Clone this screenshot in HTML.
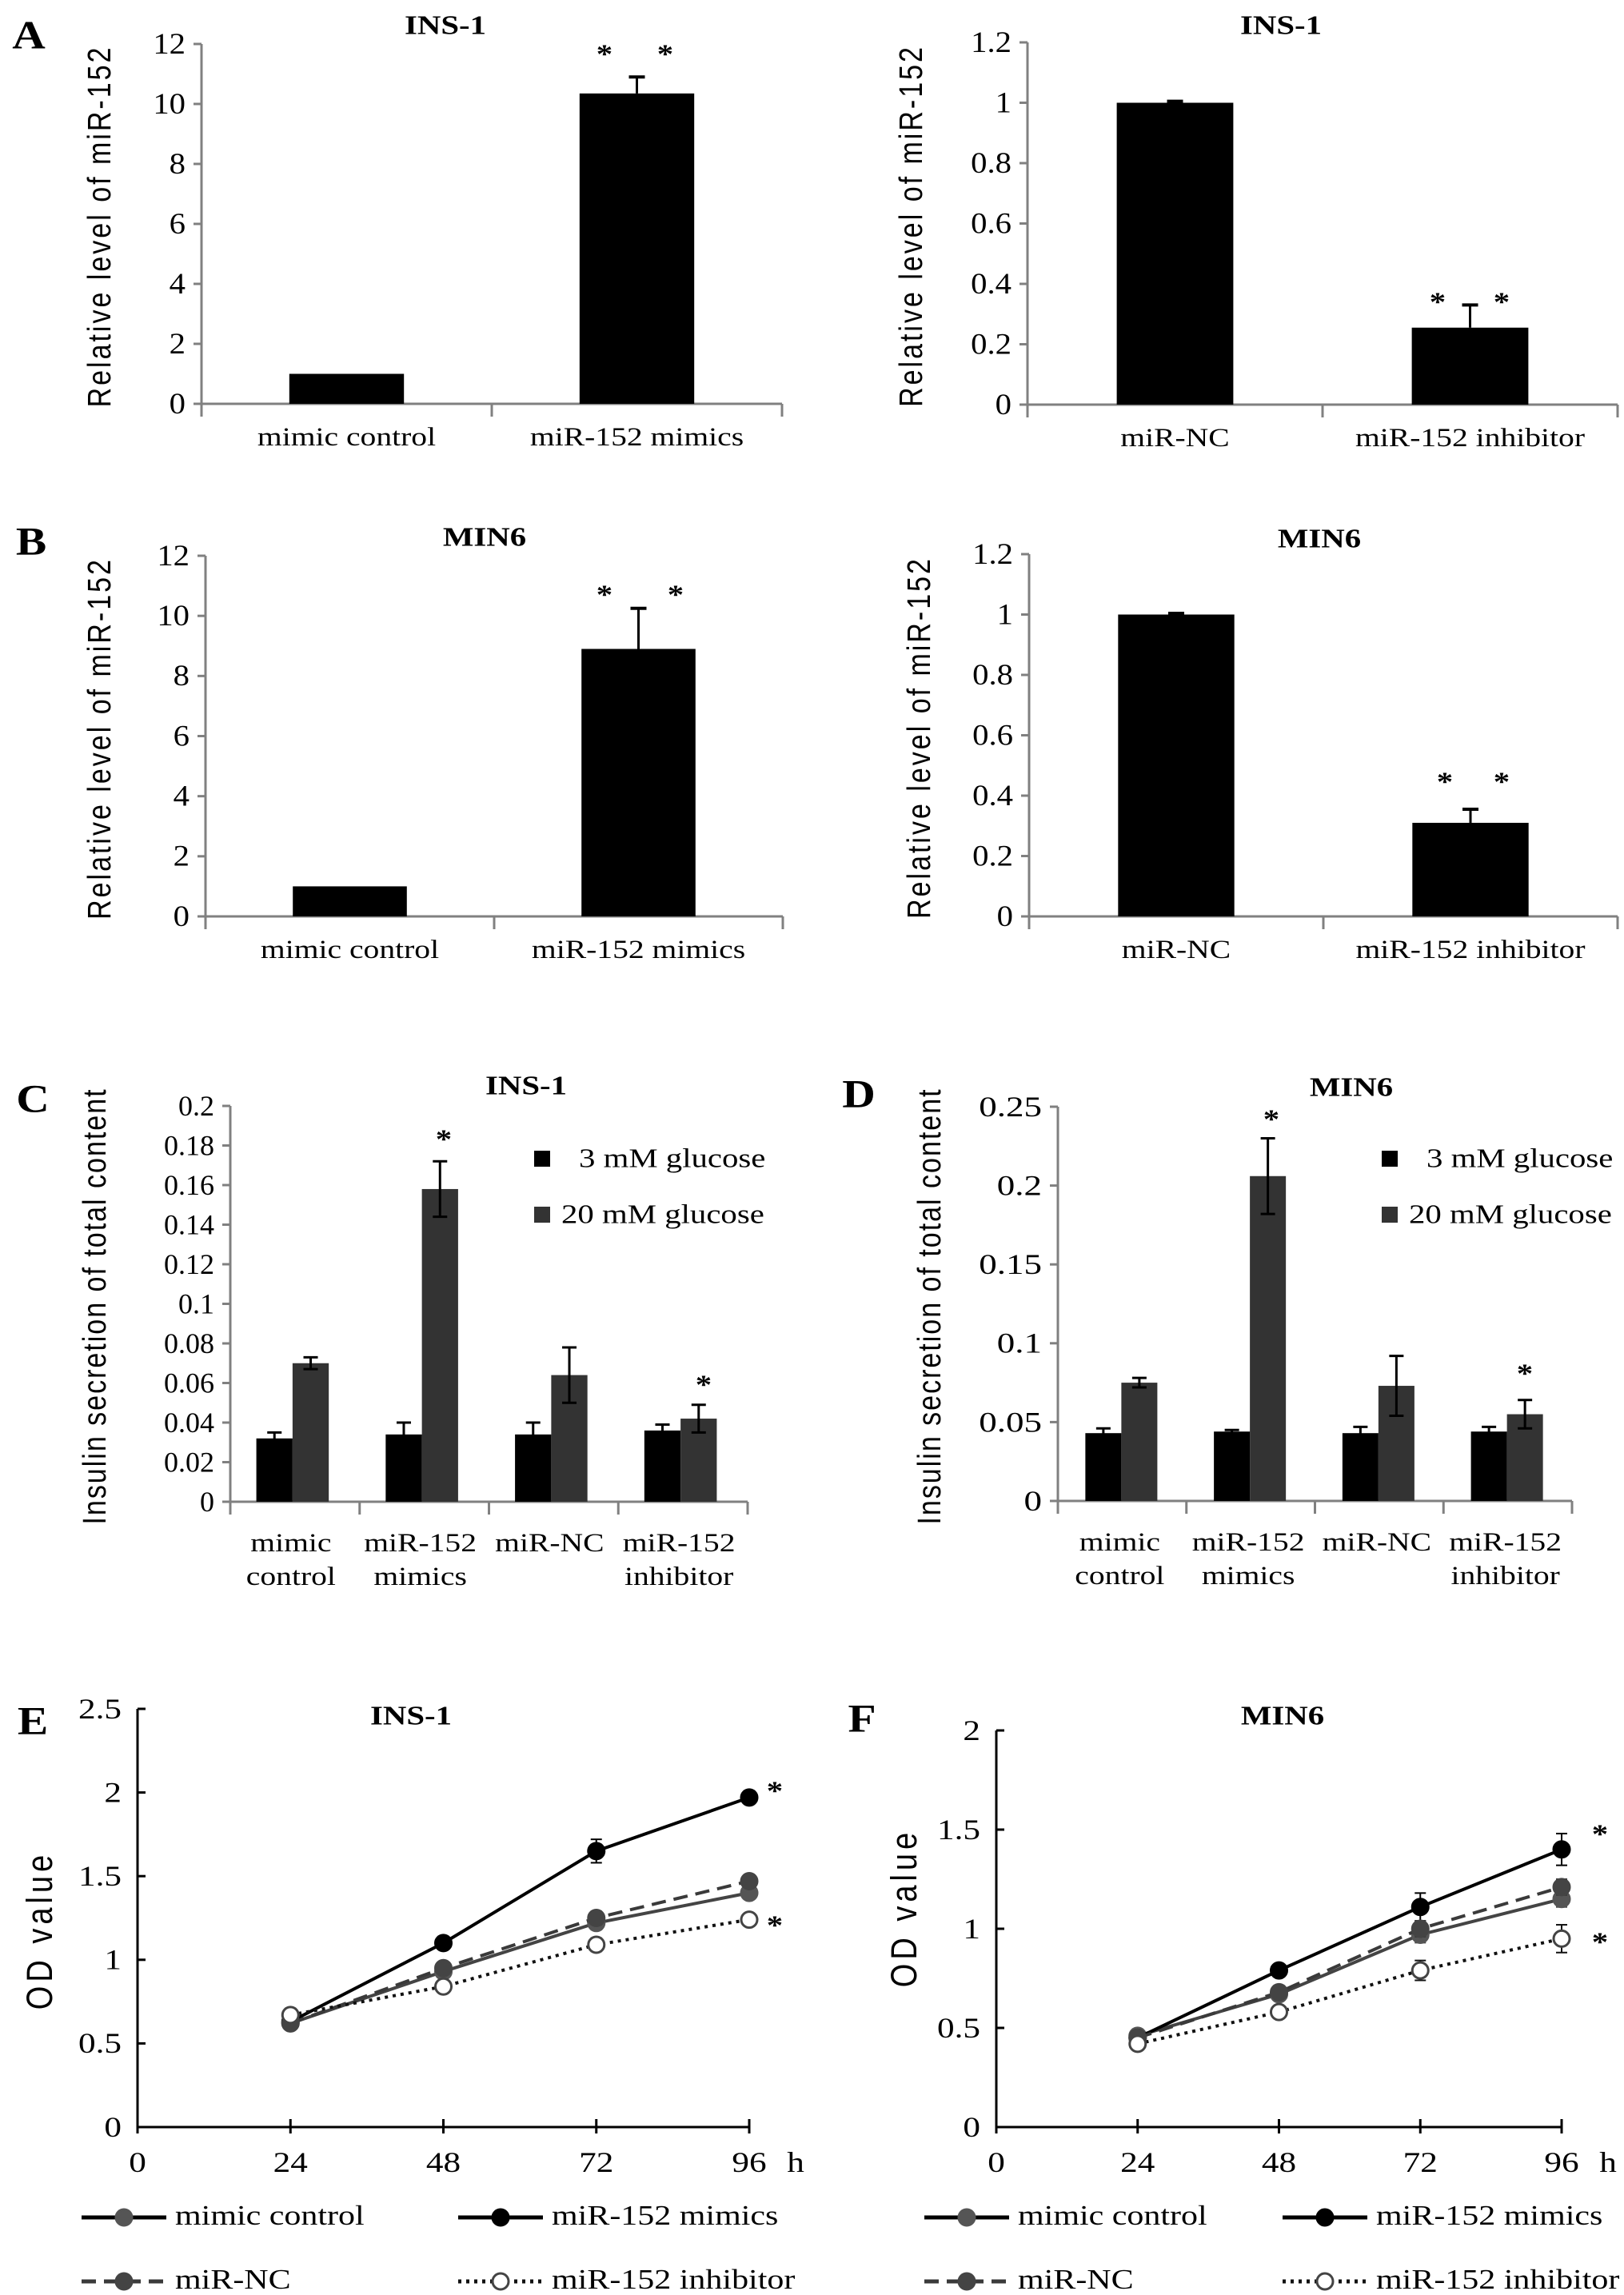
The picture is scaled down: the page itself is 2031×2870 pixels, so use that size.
<!DOCTYPE html>
<html><head><meta charset="utf-8">
<style>
html,body{margin:0;padding:0;background:#fff;}
svg{display:block;}
</style></head>
<body>
<svg id="fig" width="2031" height="2870" viewBox="0 0 2031 2870" xmlns="http://www.w3.org/2000/svg"></svg>
<script>
// ---------- DATA ----------
const catsMimic = ['mimic control','miR-152 mimics'];
const catsInhib = ['miR-NC','miR-152 inhibitor'];
const insMimicVals = [1.0, 10.35];
const insMimicErr = [0, 0.55];
const insInhibVals = [1.0, 0.255];
const insInhibErr = [0.005, 0.075];
const minMimicVals = [1.0, 8.9];
const minMimicErr = [0, 1.35];
const minInhibVals = [1.0, 0.31];
const minInhibErr = [0.004, 0.045];
const ticksBig = [0,2,4,6,8,10,12];
const ticksBigLabels = ['0','2','4','6','8','10','12'];
const ticksSmall = [0,0.2,0.4,0.6,0.8,1.0,1.2];
const ticksSmallLabels = ['0','0.2','0.4','0.6','0.8','1','1.2'];

const glucCats = [['mimic','control'],['miR-152','mimics'],['miR-NC'],['miR-152','inhibitor']];
const insG3 = [0.032,0.034,0.034,0.036];
const insG3Err = [0.003,0.006,0.006,0.003];
const insG20 = [0.070,0.158,0.064,0.042];
const insG20Err = [0.003,0.014,0.014,0.007];
const minG3 = [0.043,0.044,0.043,0.044];
const minG3Err = [0.003,0.001,0.004,0.003];
const minG20 = [0.075,0.206,0.073,0.055];
const minG20Err = [0.003,0.024,0.019,0.009];
const ticksC = [0,0.02,0.04,0.06,0.08,0.1,0.12,0.14,0.16,0.18,0.2];
const ticksCLabels = ['0','0.02','0.04','0.06','0.08','0.1','0.12','0.14','0.16','0.18','0.2'];
const ticksD = [0,0.05,0.1,0.15,0.2,0.25];
const ticksDLabels = ['0','0.05','0.1','0.15','0.2','0.25'];

const hours = [24,48,72,96];
const hourTicks = [0,24,48,72,96];
const hourTickLabels = ['0','24','48','72','96'];
const eControl = [0.62,0.93,1.22,1.40];
const eControlErr = [0.01,0.02,0.04,0.03];
const eMimics = [0.63,1.10,1.65,1.97];
const eMimicsErr = [0.01,0.02,0.07,0.03];
const eNC = [0.62,0.95,1.25,1.47];
const eNCErr = [0.01,0.02,0.04,0.03];
const eInhib = [0.67,0.84,1.09,1.24];
const eInhibErr = [0.01,0.02,0.04,0.02];
const fControl = [0.46,0.67,0.97,1.15];
const fControlErr = [0.01,0.02,0.04,0.04];
const fMimics = [0.45,0.79,1.11,1.40];
const fMimicsErr = [0.01,0.02,0.07,0.08];
const fNC = [0.45,0.68,1.00,1.21];
const fNCErr = [0.01,0.02,0.04,0.04];
const fInhib = [0.42,0.58,0.79,0.95];
const fInhibErr = [0.01,0.02,0.05,0.07];
const ticksE = [0,0.5,1,1.5,2,2.5];
const ticksELabels = ['0','0.5','1','1.5','2','2.5'];
const ticksF = [0,0.5,1,1.5,2];
const ticksFLabels = ['0','0.5','1','1.5','2'];

// ---------- HELPERS ----------
const NS = 'http://www.w3.org/2000/svg';
const svg = document.getElementById('fig');
const SERIF = '"Liberation Serif", serif';
const SANS = '"Liberation Sans", sans-serif';

function mk(tag, attrs, parent, name) {
  const el = document.createElementNS(NS, tag);
  for (const k in attrs) el.setAttribute(k, attrs[k]);
  
  
  (parent || svg).appendChild(el);
  return el;
}
function txt(parent, x, y, s, size, opts, name) {
  opts = opts || {};
  const sx = opts.sx || 1.2;
  let tr = 'translate(' + x + ',' + y + ') scale(' + sx + ',1)';
  if (opts.rot) tr += ' rotate(-90)';
  const el = document.createElementNS(NS, 'text');
  el.setAttribute('transform', tr);
  el.setAttribute('font-size', size);
  el.setAttribute('font-family', opts.family || SERIF);
  el.setAttribute('text-anchor', opts.anchor || 'middle');
  el.setAttribute('dominant-baseline', 'central');
  if (opts.weight) el.setAttribute('font-weight', opts.weight);
  if (opts.ls) el.setAttribute('letter-spacing', opts.ls);
  el.setAttribute('fill', opts.fill || '#000');
  el.setAttribute('xml:space', 'preserve');
  el.textContent = s;
  
  
  parent.appendChild(el);
  return el;
}
function line(parent, x1, y1, x2, y2, stroke, w, name, dash) {
  const a = {x1:x1, y1:y1, x2:x2, y2:y2, stroke:stroke, 'stroke-width':w};
  if (dash) a['stroke-dasharray'] = dash;
  return mk('line', a, parent, name);
}

// ---------- TWO-BAR CHARTS (A, B) ----------
function twoBar(p) {
  const g = mk('g', {}, svg, p.name);
  const ys = v => p.y0 - (v / p.ymax) * (p.y0 - p.ytop);
  const gw = (p.xEnd - p.ax) / p.cats.length;
  const axisC = '#808080';
  line(g, p.ax, p.ytop, p.ax, p.y0, axisC, 3, 'y-axis');
  line(g, p.ax - 10, p.y0, p.xEnd, p.y0, axisC, 3, 'x-axis');
  for (let i = 0; i <= p.cats.length; i++) {
    line(g, p.ax + i * gw, p.y0, p.ax + i * gw, p.y0 + 16, axisC, 3, 'x-tick');
  }
  p.ticks.forEach((t, i) => {
    line(g, p.ax - 10, ys(t), p.ax, ys(t), axisC, 3, 'y-tick');
    txt(g, p.ax - 20, ys(t), p.tickLabels[i], 37, {anchor:'end', sx:1.1}, 'y-tick-label');
  });
  p.vals.forEach((v, i) => {
    const cx = p.ax + gw * (i + 0.5);
    const bw = gw * 0.395;
    mk('rect', {x: cx - bw / 2, y: ys(v), width: bw, height: p.y0 - ys(v), fill:'#000'}, g, 'bar-' + (i + 1));
    if (p.err[i] > 0) {
      line(g, cx, ys(v), cx, ys(v + p.err[i]), '#000', 3, 'error-bar');
      line(g, cx - 10, ys(v + p.err[i]), cx + 10, ys(v + p.err[i]), '#000', 4, 'error-cap');
    }
    txt(g, cx, p.y0 + 41, p.cats[i], 33, {}, 'category-label');
  });
  p.stars.forEach(s => txt(g, s[0], s[1], '*', 34, {weight:'bold'}, 'significance-star'));
  txt(g, p.titleX, p.titleY, p.title, 34, {weight:'bold'}, 'chart-title');
  txt(g, p.ytX, (p.ytop + p.y0) / 2 + 3, 'Relative level of  miR-152', 34, {rot:true, family:SANS, ls:3}, 'y-axis-title');
  if (p.letter) txt(g, p.letter[1], p.letter[2], p.letter[0], 50, {weight:'bold', sx:1.15}, 'panel-label');
}

twoBar({name:'panel-a-ins1-mimics', ax:252, y0:505, ytop:55, ymax:12, xEnd:978, cats:catsMimic, vals:insMimicVals, err:insMimicErr,
  ticks:ticksBig, tickLabels:ticksBigLabels, stars:[[756,68],[832,68]], title:'INS-1', titleX:557, titleY:32, ytX:124, letter:['A',36,44]});
twoBar({name:'panel-a-ins1-inhibitor', ax:1285, y0:506, ytop:53, ymax:1.2, xEnd:2023, cats:catsInhib, vals:insInhibVals, err:insInhibErr,
  ticks:ticksSmall, tickLabels:ticksSmallLabels, stars:[[1798,378],[1878,378]], title:'INS-1', titleX:1602, titleY:32, ytX:1139});
twoBar({name:'panel-b-min6-mimics', ax:257, y0:1146, ytop:695, ymax:12, xEnd:979, cats:catsMimic, vals:minMimicVals, err:minMimicErr,
  ticks:ticksBig, tickLabels:ticksBigLabels, stars:[[756,744],[845,744]], title:'MIN6', titleX:606, titleY:672, ytX:124, letter:['B',39,677]});
twoBar({name:'panel-b-min6-inhibitor', ax:1287, y0:1146, ytop:693, ymax:1.2, xEnd:2023, cats:catsInhib, vals:minInhibVals, err:minInhibErr,
  ticks:ticksSmall, tickLabels:ticksSmallLabels, stars:[[1807,978],[1878,978]], title:'MIN6', titleX:1650, titleY:674, ytX:1149});

// ---------- GROUPED BAR CHARTS (C, D) ----------
function groupBar(p) {
  const g = mk('g', {}, svg, p.name);
  const ys = v => p.y0 - (v / p.ymax) * (p.y0 - p.ytop);
  const gw = (p.xEnd - p.ax) / glucCats.length;
  const axisC = '#808080';
  line(g, p.ax, p.ytop, p.ax, p.y0, axisC, 3, 'y-axis');
  line(g, p.ax - 10, p.y0, p.xEnd, p.y0, axisC, 3, 'x-axis');
  for (let i = 0; i <= glucCats.length; i++) {
    line(g, p.ax + i * gw, p.y0, p.ax + i * gw, p.y0 + 16, axisC, 3, 'x-tick');
  }
  p.ticks.forEach((t, i) => {
    line(g, p.ax - 10, ys(t), p.ax, ys(t), axisC, 3, 'y-tick');
    txt(g, p.ax - 20, ys(t), p.tickLabels[i], 36, {anchor:'end', sx:p.tsx}, 'y-tick-label');
  });
  const bw = gw * 0.28;
  glucCats.forEach((c, i) => {
    const cx = p.ax + gw * (i + 0.5) + p.shift;
    const v3 = p.v3[i], v20 = p.v20[i];
    mk('rect', {x: cx - bw, y: ys(v3), width: bw, height: p.y0 - ys(v3), fill:'#000'}, g, 'bar-3mm-' + (i + 1));
    mk('rect', {x: cx, y: ys(v20), width: bw, height: p.y0 - ys(v20), fill:'#333'}, g, 'bar-20mm-' + (i + 1));
    [[cx - bw / 2, v3, p.e3[i]], [cx + bw / 2, v20, p.e20[i]]].forEach(e => {
      line(g, e[0], ys(e[1] - e[2]), e[0], ys(e[1] + e[2]), '#000', 3, 'error-bar');
      line(g, e[0] - 9, ys(e[1] + e[2]), e[0] + 9, ys(e[1] + e[2]), '#000', 3, 'error-cap');
      line(g, e[0] - 9, ys(e[1] - e[2]), e[0] + 9, ys(e[1] - e[2]), '#000', 3, 'error-cap');
    });
    c.forEach((ln, j) => txt(g, p.ax + gw * (i + 0.5) + p.lshift, p.y0 + 51 + j * 42, ln, 33, {}, 'category-label'));
  });
  p.stars.forEach(s => txt(g, s[0], s[1], '*', 34, {weight:'bold'}, 'significance-star'));
  mk('rect', {x:p.legX, y:p.legY, width:20, height:20, fill:'#000'}, g, 'legend-swatch-3mm');
  txt(g, p.legX + 56, p.legY + 10, '3 mM glucose', 34, {anchor:'start'}, 'legend-label-3mm');
  mk('rect', {x:p.legX, y:p.legY + 70, width:20, height:20, fill:'#333'}, g, 'legend-swatch-20mm');
  txt(g, p.legX + 34, p.legY + 80, '20 mM glucose', 34, {anchor:'start'}, 'legend-label-20mm');
  txt(g, p.titleX, p.titleY, p.title, 34, {weight:'bold'}, 'chart-title');
  txt(g, p.ytX, (p.ytop + p.y0) / 2 + 3, 'Insulin secretion of  total content', 34, {rot:true, family:SANS, ls:2}, 'y-axis-title');
  txt(g, p.letter[1], p.letter[2], p.letter[0], 50, {weight:'bold', sx:1.15}, 'panel-label');
}

groupBar({name:'panel-c-ins1-insulin', ax:288, y0:1878, ytop:1383, ymax:0.2, xEnd:935, v3:insG3, e3:insG3Err, v20:insG20, e20:insG20Err,
  ticks:ticksC, tickLabels:ticksCLabels, tsx:1.0, shift:-3, lshift:-5, stars:[[555,1425],[880,1732]], legX:668, legY:1439,
  title:'INS-1', titleX:658, titleY:1358, ytX:118, letter:['C',41,1374]});
groupBar({name:'panel-d-min6-insulin', ax:1323, y0:1877, ytop:1384, ymax:0.25, xEnd:1966, v3:minG3, e3:minG3Err, v20:minG20, e20:minG20Err,
  ticks:ticksD, tickLabels:ticksDLabels, tsx:1.25, shift:-1, lshift:-3, stars:[[1590,1400],[1907,1718]], legX:1728, legY:1439,
  title:'MIN6', titleX:1690, titleY:1360, ytX:1162, letter:['D',1074,1368]});

// ---------- LINE CHARTS (E, F) ----------
function lineChart(p) {
  const g = mk('g', {}, svg, p.name);
  const xs = h => p.ax + (h / 96) * (p.x96 - p.ax);
  const ys = v => p.y0 - (v / p.ymax) * (p.y0 - p.ytop);
  line(g, p.ax, p.ytop, p.ax, p.y0, '#000', 3, 'y-axis');
  line(g, p.ax, p.y0, p.x96, p.y0, '#000', 3, 'x-axis');
  p.ticks.forEach((t, i) => {
    line(g, p.ax, ys(t), p.ax + 10, ys(t), '#000', 3, 'y-tick');
    txt(g, p.ax - 20, ys(t), p.tickLabels[i], 36, {anchor:'end'}, 'y-tick-label');
  });
  hourTicks.forEach((h, i) => {
    line(g, xs(h), p.y0 - 10, xs(h), p.y0 + 8, '#000', 3, 'x-tick');
    txt(g, xs(h), p.y0 + 44, hourTickLabels[i], 36, {}, 'x-tick-label');
  });
  txt(g, p.x96 + 58, p.y0 + 44, 'h', 36, {}, 'x-axis-unit');
  p.series.forEach(s => {
    const pts = hours.map((h, i) => xs(h) + ',' + ys(s.vals[i])).join(' ');
    mk('polyline', {points:pts, fill:'none', stroke:s.color, 'stroke-width':4, 'stroke-dasharray':s.dash || 'none'}, g, 'line-' + s.key);
    hours.forEach((h, i) => {
      const x = xs(h), y1 = ys(s.vals[i] - s.err[i]), y2 = ys(s.vals[i] + s.err[i]);
      line(g, x, y1, x, y2, s.color, 2, 'error-bar');
      line(g, x - 7, y2, x + 7, y2, s.color, 2, 'error-cap');
      line(g, x - 7, y1, x + 7, y1, s.color, 2, 'error-cap');
      mk('circle', {cx:x, cy:ys(s.vals[i]), r:10, fill:s.fill, stroke:s.mstroke, 'stroke-width':3}, g, 'point-' + s.key);
    });
  });
  p.stars.forEach(s => txt(g, s[0], s[1], '*', 34, {weight:'bold'}, 'significance-star'));
  txt(g, p.titleX, p.titleY, p.title, 34, {weight:'bold'}, 'chart-title');
  txt(g, p.ytX, p.ytY, 'OD  value', 38, {rot:true, family:SANS, ls:5}, 'y-axis-title');
  txt(g, p.letter[1], p.letter[2], p.letter[0], 50, {weight:'bold', sx:1.15}, 'panel-label');
  // legend
  const L = p.leg;
  const items = [
    {x:L.c1, y:L.r1, s:p.series[0], label:'mimic control'},
    {x:L.c2, y:L.r1, s:p.series[1], label:'miR-152 mimics'},
    {x:L.c1, y:L.r2, s:p.series[2], label:'miR-NC'},
    {x:L.c2, y:L.r2, s:p.series[3], label:'miR-152 inhibitor'}
  ];
  items.forEach(it => {
    const lg = mk('g', {}, g, 'legend-entry');
    line(lg, it.x, it.y, it.x + 106, it.y, it.s.key === 'control' ? '#000' : it.s.color, 5, 'legend-line', it.s.dash);
    mk('circle', {cx:it.x + 53, cy:it.y, r:10, fill:it.s.fill, stroke:it.s.mstroke, 'stroke-width':3}, lg, 'legend-marker');
    txt(lg, it.x + 117, it.y - 2, it.label, 35, {anchor:'start'}, 'legend-label');
  });
}

function seriesDefs(ctrl, ctrlE, mim, mimE, nc, ncE, inh, inhE) {
  return [
    {key:'control', vals:ctrl, err:ctrlE, color:'#444', fill:'#555', mstroke:'#555'},
    {key:'mimics', vals:mim, err:mimE, color:'#000', fill:'#000', mstroke:'#000'},
    {key:'nc', vals:nc, err:ncE, color:'#3a3a3a', fill:'#444', mstroke:'#444', dash:'18,10'},
    {key:'inhibitor', vals:inh, err:inhE, color:'#111', fill:'#fff', mstroke:'#444', dash:'4,6'}
  ];
}

lineChart({name:'panel-e-ins1-od', ax:172, x96:937, y0:2660, ytop:2137, ymax:2.5, ticks:ticksE, tickLabels:ticksELabels,
  series:seriesDefs(eControl, eControlErr, eMimics, eMimicsErr, eNC, eNCErr, eInhib, eInhibErr),
  stars:[[969,2240],[969,2408]], title:'INS-1', titleX:514, titleY:2146, ytX:49, ytY:2414, letter:['E',41,2152],
  leg:{c1:102, c2:573, r1:2773, r2:2853}});
lineChart({name:'panel-f-min6-od', ax:1246, x96:1953, y0:2660, ytop:2164, ymax:2, ticks:ticksF, tickLabels:ticksFLabels,
  series:seriesDefs(fControl, fControlErr, fMimics, fMimicsErr, fNC, fNCErr, fInhib, fInhibErr),
  stars:[[2001,2294],[2001,2429]], title:'MIN6', titleX:1604, titleY:2146, ytX:1130, ytY:2386, letter:['F',1078,2149],
  leg:{c1:1156, c2:1604, r1:2773, r2:2853}});
</script>
</body></html>
